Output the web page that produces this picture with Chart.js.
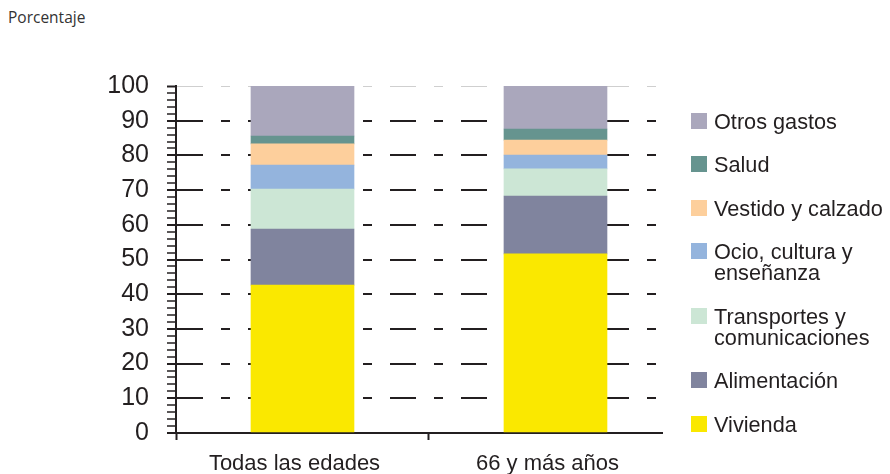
<!DOCTYPE html>
<html>
<head>
<meta charset="utf-8">
<script src="https://cdn.jsdelivr.net/npm/chart.js@4/dist/chart.umd.min.js"></script>
<style>
    body { margin: 0; background: #fff; overflow: hidden; width: 890px; height: 474px; position: relative; }
    #chart { position: absolute; left: 0; top: 0; }
    .title { position: absolute; left: 8px; top: 6px; font: 15.5px "Open Sans", sans-serif; color: #333; }
    #legend { position: absolute; left: 691px; top: 111px; font: 21.7px "Liberation Sans", Arial, sans-serif; color: #231f20; }
    #legend .item { display: flex; align-items: flex-start; margin-bottom: 22.2px; line-height: 21.2px; }
    #legend .box { width: 16px; height: 16px; margin-right: 7px; margin-top: 2px; flex: none; }
</style>
</head>
<body>
<div class="title">Porcentaje</div>
<canvas id="chart" width="890" height="490"></canvas>
<div id="legend"></div>
<script>
// categories (x) and stacked series, bottom to top
var categories = ["Todas las edades", "66 y más años"];
var vivienda = [42.6, 51.6];
var alimentacion = [16.2, 16.7];
var transportes = [11.5, 7.8];
var ocio = [6.9, 4.0];
var vestido = [6.1, 4.3];
var salud = [2.3, 3.2];
var otros = [14.4, 12.4];

var seriesNames = [
    "Vivienda",
    "Alimentación",
    ["Transportes y", "comunicaciones"],
    ["Ocio, cultura y", "enseñanza"],
    "Vestido y calzado",
    "Salud",
    "Otros gastos"
];
var seriesValues = [vivienda, alimentacion, transportes, ocio, vestido, salud, otros];
var barColors = ["#fae800", "#80849e", "#cce6d5", "#94b4dd", "#fdcf9c", "#66948f", "#aaa7bc"];

var yTicks = [0, 10, 20, 30, 40, 50, 60, 70, 80, 90, 100];

var ink = "#231f20";

var datasets = seriesValues.map(function (vals, i) {
    return {
        label: seriesNames[i],
        backgroundColor: barColors[i],
        borderWidth: 0,
        data: vals.map(function (v, j) { return { x: j + 1, y: v }; })
    };
});

new Chart("chart", {
    type: "bar",
    data: { datasets: datasets },
    options: {
        responsive: false,
        animation: false,
        barThickness: 103,
        layout: { padding: { left: 100, right: 228, top: 86, bottom: 0 } },
        plugins: { legend: { display: false }, tooltip: { enabled: false } },
        scales: {
            x: {
                type: "linear",
                stacked: true,
                offset: false,
                min: 0.5,
                max: 2.421,
                afterBuildTicks: function (scale) {
                    var t = [];
                    categories.forEach(function (c, i) {
                        t.push({ value: i + 0.5 });
                        t.push({ value: i + 1 });
                    });
                    scale.ticks = t;
                },
                afterFit: function (scale) { scale.height = 57; },
                grid: {
                    offset: false,
                    drawOnChartArea: false,
                    tickLength: 7,
                    tickWidth: 2,
                    tickColor: function (ctx) {
                        return ctx.tick && !Number.isInteger(ctx.tick.value) ? ink : "rgba(0,0,0,0)";
                    }
                },
                border: { display: true, color: ink, width: 2 },
                ticks: {
                    autoSkip: false,
                    maxRotation: 0,
                    padding: 11,
                    labelOffset: -8,
                    color: ink,
                    font: { family: "Liberation Sans", size: 22 },
                    callback: function (v) {
                        return Number.isInteger(v) ? categories[v - 1] : "";
                    }
                }
            },
            y: {
                stacked: true,
                min: 0,
                max: 100,
                afterFit: function (scale) { scale.width = 76; },
                ticks: {
                    stepSize: 2,
                    autoSkip: false,
                    padding: 18,
                    color: ink,
                    font: { family: "Liberation Sans", size: 25 },
                    callback: function (v) {
                        return yTicks.indexOf(v) >= 0 ? v : "";
                    }
                },
                grid: {
                    tickLength: 9,
                    color: function (ctx) {
                        var v = ctx.tick ? ctx.tick.value : 0;
                        if (v === 100) return "#cfcfcf";
                        return yTicks.indexOf(v) >= 0 ? ink : "rgba(0,0,0,0)";
                    },
                    lineWidth: function (ctx) {
                        return ctx.tick && ctx.tick.value === 100 ? 1 : 2;
                    },
                    tickColor: ink,
                    tickWidth: function (ctx) {
                        return ctx.tick && yTicks.indexOf(ctx.tick.value) >= 0 ? 2 : 1.5;
                    }
                },
                border: { display: true, color: ink, width: 2, dash: [26, 18, 9, 18] }
            }
        }
    }
});

// legend, top of the stack first
var legendHtml = "";
for (var i = seriesNames.length - 1; i >= 0; i--) {
    var name = [].concat(seriesNames[i]).join("<br>");
    legendHtml += '<div class="item"><span class="box" style="background:' + barColors[i] + '"></span><span>' + name + '</span></div>';
}
document.getElementById("legend").innerHTML = legendHtml;
</script>
</body>
</html>
